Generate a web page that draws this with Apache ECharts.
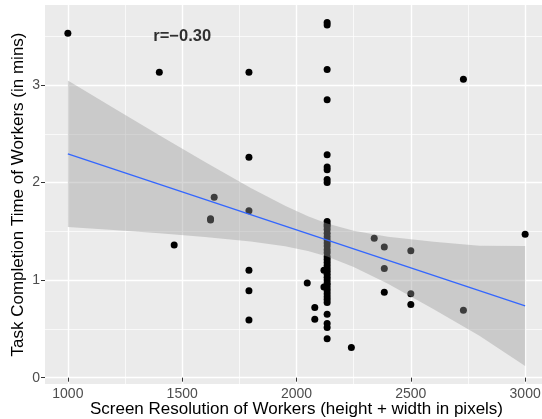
<!DOCTYPE html>
<html>
<head>
<meta charset="utf-8">
<script src="https://cdn.jsdelivr.net/npm/echarts@6/dist/echarts.min.js"></script>
<style>
  html, body { margin: 0; padding: 0; background: #fff; }
  #chart { width: 542px; height: 419px; }
</style>
</head>
<body>
<div id="chart"></div>
<script>
// screen resolution (height + width) of each worker and task time (mins)
const resolution = [
  1000, 1400, 1465, 1624, 1624, 1640,
  1792, 1792, 1792, 1792, 1792, 1792,
  2047, 2080, 2080, 2120, 2120,
  2134, 2134, 2134, 2134, 2134, 2134, 2134, 2134, 2134,
  2134, 2134, 2134, 2134, 2134, 2134, 2134, 2134, 2134, 2134,
  2134, 2134, 2134, 2134, 2134, 2134, 2134, 2134, 2134, 2134,
  2134, 2134, 2134, 2134, 2134, 2134, 2134, 2134, 2134, 2134, 2134, 2134,
  2240, 2340, 2384, 2384, 2384, 2500, 2500, 2500, 2730, 2730, 3000
];
const taskTime = [
  3.53, 3.13, 1.36, 1.63, 1.615, 1.85,
  3.13, 2.26, 1.71, 1.10, 0.89, 0.59,
  0.97, 0.72, 0.60, 1.10, 0.93,
  3.64, 3.615, 3.16, 2.85, 2.285, 2.16, 2.13, 2.03, 2.00,
  1.60, 1.57, 1.55, 1.52, 1.48, 1.445, 1.41, 1.38, 1.35, 1.31,
  1.28, 1.24, 1.21, 1.18, 1.15, 1.12, 1.09, 1.06, 1.03, 1.00,
  0.97, 0.95, 0.92, 0.89, 0.86, 0.83, 0.80, 0.77, 0.65, 0.555, 0.515, 0.40,
  0.31, 1.43, 1.34, 1.12, 0.875, 1.30, 0.86, 0.75, 3.06, 0.69, 1.47
];

// linear fit and its confidence band
const fitX = [1000, 3000];
const fitY = [2.295, 0.735];
const bandX = [1000, 1200, 1400, 1600, 1800, 1950, 2050, 2134, 2250, 2400, 2600, 2800, 3000];
const bandLow = [1.545, 1.514, 1.481, 1.443, 1.397, 1.347, 1.298, 1.241, 1.134, 0.962, 0.702, 0.430, 0.12];
const bandHigh = [3.045, 2.764, 2.485, 2.211, 1.945, 1.761, 1.654, 1.581, 1.506, 1.444, 1.392, 1.352, 1.35];

const xTicks = [1000, 1500, 2000, 2500, 3000];
const yTicks = [0, 1, 2, 3];
const corrLabel = 'r=\u22120.30';

const points = resolution.map((x, i) => [x, taskTime[i]]);
const fitLine = fitX.map((x, i) => [x, fitY[i]]);

const chart = echarts.init(document.getElementById('chart'));
const axisFont = 'Liberation Sans, Arial, sans-serif';

chart.setOption({
  animation: false,
  grid: {
    left: 45, right: -6, top: 5, bottom: 35,
    outerBoundsMode: 'none', containLabel: false,
    show: true, backgroundColor: '#EBEBEB', borderWidth: 0
  },
  xAxis: {
    type: 'value',
    min: 900, max: 3100,
    name: 'Screen Resolution of Workers (height + width in pixels)',
    nameLocation: 'middle',
    nameGap: 17,
    nameMoveOverlap: false,
    nameTextStyle: { fontFamily: axisFont, fontSize: 17, color: '#000' },
    axisLine: { show: false },
    axisTick: { show: true, length: 4, customValues: xTicks, lineStyle: { color: '#333' } },
    axisLabel: {
      customValues: xTicks, formatter: v => String(v),
      margin: 3, fontFamily: axisFont, fontSize: 14, color: '#4D4D4D'
    },
    splitLine: { show: true, lineStyle: { color: '#fff', width: 1.4 } },
    minorTick: { show: false, splitNumber: 2 },
    minorSplitLine: { show: true, lineStyle: { color: '#fff', width: 0.7 } }
  },
  yAxis: {
    type: 'value',
    min: -0.065, max: 3.82,
    name: 'Task Completion Time of Workers (in mins)',
    nameLocation: 'middle',
    nameGap: 18,
    nameMoveOverlap: false,
    nameTextStyle: { fontFamily: axisFont, fontSize: 17, color: '#000' },
    axisLine: { show: false },
    axisTick: { show: true, length: 4, customValues: yTicks, lineStyle: { color: '#333' } },
    axisLabel: {
      customValues: yTicks, formatter: v => String(v),
      margin: 5, fontFamily: axisFont, fontSize: 14, color: '#4D4D4D'
    },
    splitLine: { show: true, lineStyle: { color: '#fff', width: 1.4 } },
    minorTick: { show: false, splitNumber: 2 },
    minorSplitLine: { show: true, lineStyle: { color: '#fff', width: 0.7 } }
  },
  series: [
    {
      name: 'workers',
      type: 'scatter',
      data: points,
      symbolSize: 7,
      itemStyle: { color: '#000', opacity: 1 },
      z: 2
    },
    {
      name: 'band',
      type: 'custom',
      data: [[bandX[0], bandLow[0]]],
      renderItem: function (params, api) {
        const pts = [];
        for (let i = 0; i < bandX.length; i++) pts.push(api.coord([bandX[i], bandHigh[i]]));
        for (let i = bandX.length - 1; i >= 0; i--) pts.push(api.coord([bandX[i], bandLow[i]]));
        return {
          type: 'polygon',
          shape: { points: pts },
          style: { fill: 'rgba(153,153,153,0.4)' }
        };
      },
      silent: true,
      z: 3
    },
    {
      name: 'fit',
      type: 'line',
      data: fitLine,
      symbol: 'none',
      lineStyle: { color: '#3366FF', width: 1.3 },
      z: 4
    },
    {
      name: 'corr',
      type: 'scatter',
      data: [[1500, 3.5]],
      symbolSize: 0,
      label: {
        show: true, position: 'inside', formatter: corrLabel,
        fontFamily: axisFont, fontWeight: 'bold', fontSize: 16.5, color: '#000'
      },
      z: 5
    }
  ]
});
</script>
</body>
</html>
